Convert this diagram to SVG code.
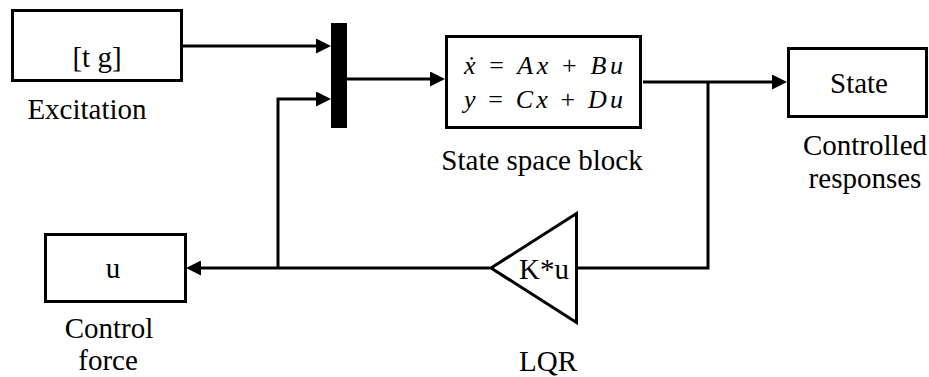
<svg xmlns="http://www.w3.org/2000/svg" width="929" height="377" viewBox="0 0 929 377">
<style>
.box{fill:#fff;stroke:#000;stroke-width:3}
.wire{fill:none;stroke:#000;stroke-width:3}
text{font-family:Liberation Serif, Times New Roman, Times, serif}
.lbl{font-size:29px;fill:#000;text-anchor:middle}
.eq{font-size:26px;font-style:italic;fill:#000}
.op{font-style:normal}
</style>
<defs>
<marker id="arr" markerUnits="userSpaceOnUse" markerWidth="15" markerHeight="15" refX="5" refY="7.5" orient="auto">
<path d="M0,0 L15,7.5 L0,15 Z" fill="#000"/>
</marker>
</defs>
<rect width="929" height="377" fill="#fff"/>
<g id="connectors">
<path class="wire" d="M183,46 H321" marker-end="url(#arr)"/>
<path class="wire" d="M347,79 H435" marker-end="url(#arr)"/>
<path class="wire" d="M643,82 H777" marker-end="url(#arr)"/>
<path class="wire" d="M708,82 V268 H577"/>
<path class="wire" d="M490,268 H196" marker-end="url(#arr)"/>
<path class="wire" d="M278,268 V99 H321" marker-end="url(#arr)"/>
</g>
<g id="excitation">
<rect class="box" x="12.5" y="10.5" width="169" height="70"/>
<text class="lbl" x="97" y="67" font-size="27">[t g]</text>
<text class="lbl" x="87" y="119">Excitation</text>
</g>
<g id="mux">
<rect x="331" y="23" width="16" height="105" fill="#000"/>
</g>
<g id="statespace">
<rect class="box" x="446.5" y="36.5" width="194" height="91"/>
<text class="eq" x="464" y="74" textLength="159" lengthAdjust="spacing">ẋ <tspan class="op">=</tspan> Ax <tspan class="op">+</tspan> Bu</text>
<text class="eq" x="464" y="108" textLength="159" lengthAdjust="spacing">y <tspan class="op">=</tspan> Cx <tspan class="op">+</tspan> Du</text>
<text class="lbl" x="542" y="170">State space block</text>
</g>
<g id="state">
<rect class="box" x="788.5" y="48.5" width="138" height="68"/>
<text class="lbl" x="859" y="93">State</text>
<text class="lbl" x="865" y="155">Controlled</text>
<text class="lbl" x="865" y="188">responses</text>
</g>
<g id="lqr">
<polygon class="box" points="491,268 576.5,213.5 576.5,322.5"/>
<text class="lbl" x="544" y="279">K*u</text>
<text class="lbl" x="548" y="371">LQR</text>
</g>
<g id="control">
<rect class="box" x="45.5" y="234.5" width="140" height="67"/>
<text class="lbl" x="113" y="278" font-size="27">u</text>
<text class="lbl" x="109" y="338" font-size="28">Control</text>
<text class="lbl" x="108" y="370" font-size="28">force</text>
</g>
</svg>
